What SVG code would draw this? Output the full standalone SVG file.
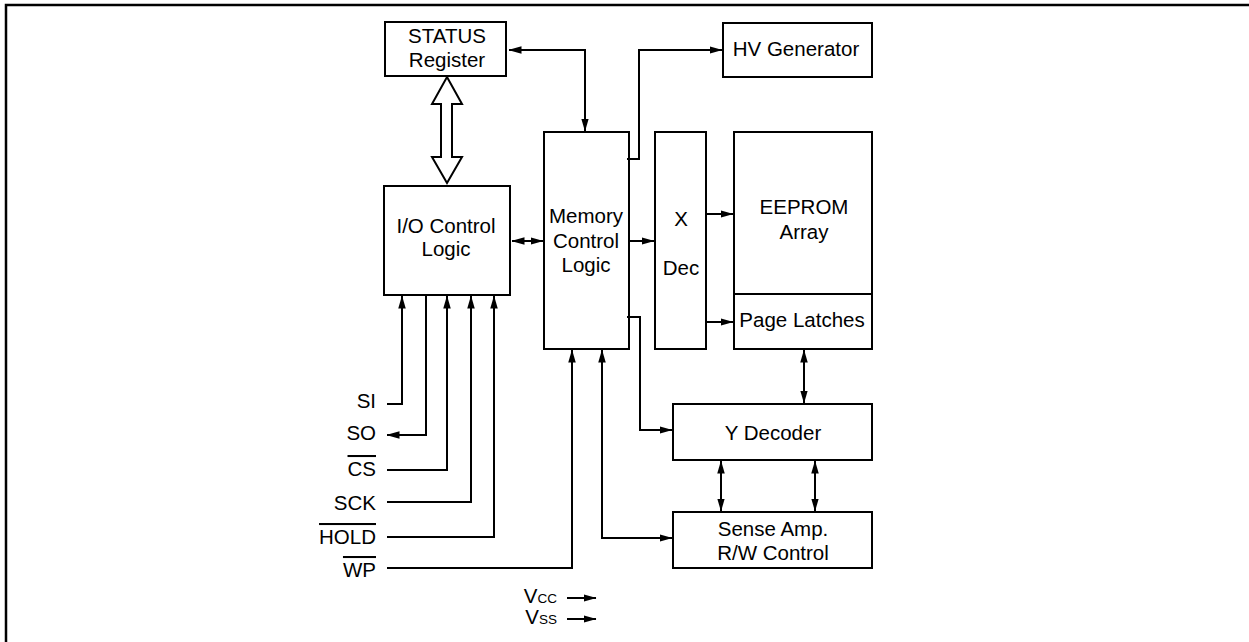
<svg xmlns="http://www.w3.org/2000/svg" width="1249" height="642" viewBox="0 0 1249 642">
<style>
.box{fill:#fff;stroke:#000;stroke-width:2}
.ln{fill:none;stroke:#000;stroke-width:2}
.t{font-family:"Liberation Sans",Arial,sans-serif;font-size:20.5px;fill:#000}
.c{text-anchor:middle}
.e{text-anchor:end}
.ov{text-decoration:overline}
</style>
<defs>
<marker id="ah" markerUnits="userSpaceOnUse" markerWidth="13" markerHeight="8" refX="12.5" refY="3.75" orient="auto-start-reverse" viewBox="0 0 13 7.5">
<path d="M0,0 L13,3.75 L0,7.5 z" fill="#000"/>
</marker>
</defs>
<rect width="1249" height="642" fill="#fff"/>
<path d="M6,642 V5 H1249" fill="none" stroke="#000" stroke-width="2.5"/>

<g id="status"><rect class="box" x="385" y="22" width="121" height="54"/><text class="t c" x="447" y="43">STATUS</text><text class="t c" x="447" y="67">Register</text></g>
<g id="hv"><rect class="box" x="723" y="23" width="149" height="54"/><text class="t c" x="796" y="56">HV Generator</text></g>
<g id="io"><rect class="box" x="384" y="186" width="126" height="109"/><text class="t c" x="446" y="233">I/O Control</text><text class="t c" x="446" y="256">Logic</text></g>
<g id="mem"><rect class="box" x="544" y="132" width="85" height="217"/><text class="t c" x="586" y="223">Memory</text><text class="t c" x="586" y="248">Control</text><text class="t c" x="586" y="272">Logic</text></g>
<g id="xdec"><rect class="box" x="655" y="132" width="51" height="217"/><text class="t c" x="681" y="226">X</text><text class="t c" x="681" y="275">Dec</text></g>
<g id="eeprom"><rect class="box" x="734" y="132" width="138" height="217"/><line class="ln" x1="734" y1="294" x2="872" y2="294"/><text class="t c" x="804" y="214">EEPROM</text><text class="t c" x="804" y="239">Array</text><text class="t c" x="802" y="327">Page Latches</text></g>
<g id="ydec"><rect class="box" x="673" y="404" width="199" height="56"/><text class="t c" x="773" y="440">Y Decoder</text></g>
<g id="sense"><rect class="box" x="673" y="512" width="199" height="56"/><text class="t c" x="773" y="536">Sense Amp.</text><text class="t c" x="773" y="560">R/W Control</text></g>

<g id="labels">
<text class="t e" x="376" y="408">SI</text>
<text class="t e" x="376" y="440">SO</text>
<text class="t e ov" x="376" y="476">CS</text>
<text class="t e" x="376" y="510">SCK</text>
<text class="t e ov" x="376" y="544">HOLD</text>
<text class="t e ov" x="376" y="577">WP</text>
<text class="t e" x="557" y="603">V<tspan font-size="13.5">CC</tspan></text>
<text class="t e" x="557" y="624">V<tspan font-size="13.5">SS</tspan></text>
</g>

<g id="connectors">
<polygon points="447,77 462,104 452,104 452,157 462,157 447,183 432,157 441,157 441,104 432,104" fill="#fff" stroke="#000" stroke-width="2"/>
<path class="ln" d="M509,50 H585 V131" marker-start="url(#ah)" marker-end="url(#ah)"/>
<path class="ln" d="M627,159 H639 V50 H722" marker-end="url(#ah)"/>
<path class="ln" d="M512,241 H543" marker-start="url(#ah)" marker-end="url(#ah)"/>
<path class="ln" d="M629,241 H654" marker-end="url(#ah)"/>
<path class="ln" d="M706,214 H733" marker-end="url(#ah)"/>
<path class="ln" d="M706,322 H733" marker-end="url(#ah)"/>
<path class="ln" d="M627,317 H640 V430 H672" marker-end="url(#ah)"/>
<path class="ln" d="M804,350 V403" marker-start="url(#ah)" marker-end="url(#ah)"/>
<path class="ln" d="M721,461 V511" marker-start="url(#ah)" marker-end="url(#ah)"/>
<path class="ln" d="M815,461 V511" marker-start="url(#ah)" marker-end="url(#ah)"/>
<path class="ln" d="M387,404 H402 V296" marker-end="url(#ah)"/>
<path class="ln" d="M426,295 V435 H387" marker-end="url(#ah)"/>
<path class="ln" d="M387,470 H447 V296" marker-end="url(#ah)"/>
<path class="ln" d="M387,502 H471 V296" marker-end="url(#ah)"/>
<path class="ln" d="M387,537 H494 V296" marker-end="url(#ah)"/>
<path class="ln" d="M387,568 H572 V350" marker-end="url(#ah)"/>
<path class="ln" d="M672,538 H602 V350" marker-start="url(#ah)" marker-end="url(#ah)"/>
<path class="ln" d="M567,598 H596" marker-end="url(#ah)"/>
<path class="ln" d="M567,619 H596" marker-end="url(#ah)"/>
</g>
</svg>
